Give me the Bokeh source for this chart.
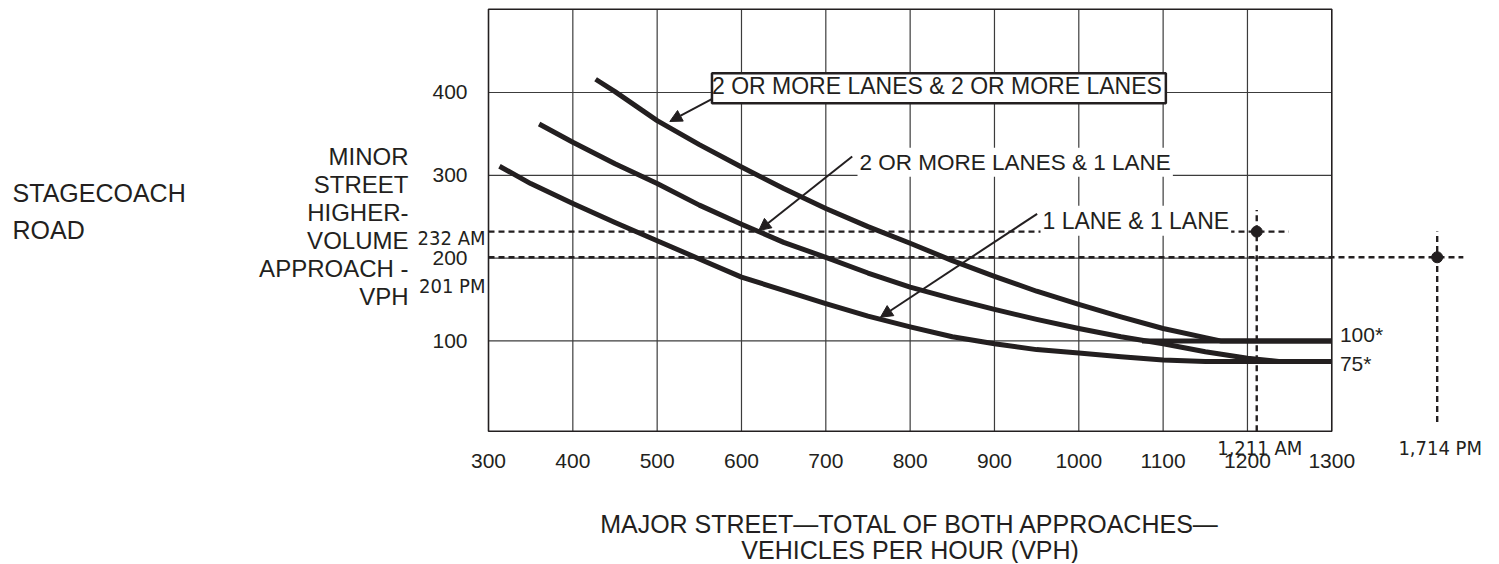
from bokeh.plotting import figure
from bokeh.models import Range1d, FixedTicker, Label, Arrow, NormalHead
from bokeh.embed import file_html
from bokeh.resources import INLINE

# ---------------- data ----------------
x_ticks = [300, 400, 500, 600, 700, 800, 900, 1000, 1100, 1200, 1300]
y_ticks = [100, 200, 300, 400]
frame_y = [-9, 500.5]

# 2 OR MORE LANES & 2 OR MORE LANES
curve_a_x = [427, 450, 500, 550, 600, 650, 700, 750, 800, 850, 900, 950, 1000, 1050, 1100, 1150, 1168, 1300]
curve_a_y = [416, 401, 366, 337, 310, 284, 260, 238, 218, 197, 178, 160, 144, 129, 115, 104, 100, 100]
# 2 OR MORE LANES & 1 LANE
curve_b_x = [360, 400, 450, 500, 550, 600, 650, 700, 750, 800, 850, 900, 950, 1000, 1050, 1100, 1150, 1200, 1240, 1300]
curve_b_y = [362, 340, 314, 290, 264, 241, 219, 201, 182, 165, 151, 138, 126, 115, 105, 96.5, 87, 79, 75, 75]
# 1 LANE & 1 LANE
curve_c_x = [313, 350, 400, 450, 500, 550, 600, 650, 700, 750, 800, 850, 900, 950, 1000, 1050, 1100, 1150, 1300]
curve_c_y = [311, 290, 266, 243, 221, 199, 177, 161, 145, 130, 117, 105, 96.5, 89.5, 85.5, 81, 77, 75, 75]

threshold_values = [100, 75]
threshold_labels = ["100*", "75*"]
threshold_start = [1075, 1150]

minor_counts = [232, 201]
minor_labels = ["232 AM", "201 PM"]
minor_line_end = [1249, 1456]

major_counts_plot_x = [1211, 1425]   # 1,714 is plotted off-scale, beyond 1300
major_labels = ["1,211 AM", "1,714 PM"]
major_line_top = [258, 232]
major_line_bottom = [-9, 2]

curve_names = ["2 OR MORE LANES & 2 OR MORE LANES", "2 OR MORE LANES & 1 LANE", "1 LANE & 1 LANE"]

# ---------------- style ----------------
INK = "#231f20"
GRID = "#3c3c3c"
FONT = "Liberation Sans"
NARROW = "Liberation Sans Narrow, DejaVu Sans Condensed"

p = figure(width=1498, height=563,
           x_range=Range1d(-278.7, 1497.7), y_range=Range1d(-168.8, 511.1),
           output_backend="svg", toolbar_location=None,
           min_border=0)
p.outline_line_color = None
p.background_fill_color = "white"
p.border_fill_color = "white"
p.xgrid.visible = False
p.ygrid.visible = False

for ax in (p.xaxis[0], p.yaxis[0]):
    ax.axis_line_color = None
    ax.major_tick_line_color = None
    ax.minor_tick_line_color = None
    ax.major_tick_out = 0
    ax.major_tick_in = 0
    ax.major_label_text_font = FONT
    ax.major_label_text_font_size = "21px"
    ax.major_label_text_color = INK
p.xaxis.ticker = FixedTicker(ticks=x_ticks)
p.yaxis.ticker = FixedTicker(ticks=y_ticks)
p.xaxis.fixed_location = frame_y[0]
p.yaxis.fixed_location = x_ticks[0]
p.xaxis.major_label_standoff = 23
p.yaxis.major_label_standoff = 21

# grid lines inside the chart box
inner_x = x_ticks[1:-1]
p.segment(x0=inner_x, y0=[frame_y[0]] * len(inner_x), x1=inner_x, y1=[frame_y[1]] * len(inner_x),
          line_color=GRID, line_width=1.2)
p.segment(x0=[x_ticks[0]] * len(y_ticks), y0=y_ticks, x1=[x_ticks[-1]] * len(y_ticks), y1=y_ticks,
          line_color=GRID, line_width=1.2)
p.quad(left=[x_ticks[0]], right=[x_ticks[-1]], bottom=[frame_y[0]], top=[frame_y[1]],
       fill_color=None, line_color=INK, line_width=1.6)

# dotted count lines
p.segment(x0=[x_ticks[0]] * 2, y0=minor_counts, x1=minor_line_end, y1=minor_counts,
          line_color=INK, line_width=2.4, line_dash="6 4")
p.segment(x0=major_counts_plot_x, y0=major_line_bottom, x1=major_counts_plot_x, y1=major_line_top,
          line_color=INK, line_width=2.4, line_dash="6 4")

# curves
for cx, cy in ((curve_a_x, curve_a_y), (curve_b_x, curve_b_y), (curve_c_x, curve_c_y)):
    p.line(cx, cy, line_color=INK, line_width=5, line_join="round")
p.segment(x0=threshold_start, y0=threshold_values, x1=[x_ticks[-1]] * 2, y1=threshold_values,
          line_color=INK, line_width=5)

# count points
p.scatter(major_counts_plot_x, minor_counts, size=11, color=INK)

# arrows
arrow_specs = [((565.3, 392.4), (515, 365)),
               ((731.3, 322.8), (620.5, 233.3)),
               ((950.6, 253.5), (764.8, 128.6))]
for (xs, ys), (xe, ye) in arrow_specs:
    p.add_layout(Arrow(end=NormalHead(size=12, fill_color=INK, line_color=INK, line_width=1),
                       x_start=xs, y_start=ys, x_end=xe, y_end=ye,
                       line_color=INK, line_width=2))

# curve labels
p.add_layout(Label(x=565, y=405.2, text=curve_names[0], text_font=FONT, text_font_size="23px",
                   text_color=INK, text_baseline="alphabetic",
                   background_fill_color="white", border_line_color=INK, border_line_width=2.5,
                   padding=(0, 4, 0, 4)))
p.add_layout(Label(x=737.6, y=315.9, text=curve_names[1], text_font=FONT, text_font_size="22.5px",
                   text_color=INK, text_baseline="alphabetic",
                   background_fill_color="white", padding=2))
p.add_layout(Label(x=954.6, y=245, text=curve_names[2], text_font=FONT, text_font_size="23px",
                   text_color=INK, text_baseline="alphabetic",
                   background_fill_color="white", padding=2))

# threshold labels
for lab, ty in zip(threshold_labels, [107.7, 73.3]):
    p.add_layout(Label(x=1309.6, y=ty, text=lab, text_font=FONT, text_font_size="21px",
                       text_color=INK, text_baseline="middle"))

# count labels
for lab, ly in zip(minor_labels, [223.7, 166.9]):
    p.add_layout(Label(x=296.4, y=ly, text=lab, text_font=NARROW, text_font_size="20px",
                       text_color=INK, text_align="right", text_baseline="alphabetic"))
for lab, lx in zip(major_labels, major_counts_plot_x):
    p.add_layout(Label(x=lx, y=-29.5, x_offset=3, text=lab, text_font=NARROW, text_font_size="20px",
                       text_color=INK, text_align="center", text_baseline="alphabetic"))

# y axis title
y_title = ["MINOR", "STREET", "HIGHER-", "VOLUME", "APPROACH -", "VPH"]
y_title_base = [322.7, 288.9, 255.1, 221.3, 187.4, 153.6]
for t, yb in zip(y_title, y_title_base):
    p.add_layout(Label(x=205.1, y=yb, text=t, text_font=FONT, text_font_size="24px",
                       text_color=INK, text_align="right", text_baseline="alphabetic"))

# x axis title
for t, yb in zip(["MAJOR STREET\u2014TOTAL OF BOTH APPROACHES\u2014", "VEHICLES PER HOUR (VPH)"],
                 [-121.7, -153.1]):
    p.add_layout(Label(x=800, y=yb, text=t, text_font=FONT, text_font_size="25px",
                       text_color=INK, text_align="center", text_baseline="alphabetic"))

# location name
for t, yb in zip(["STAGECOACH", "ROAD"], [279.2, 233.9]):
    p.add_layout(Label(x=-264.4, y=yb, text=t, text_font=FONT, text_font_size="25px",
                       text_color=INK, text_align="left", text_baseline="alphabetic"))

open("out.html", "w").write(file_html(p, INLINE))
